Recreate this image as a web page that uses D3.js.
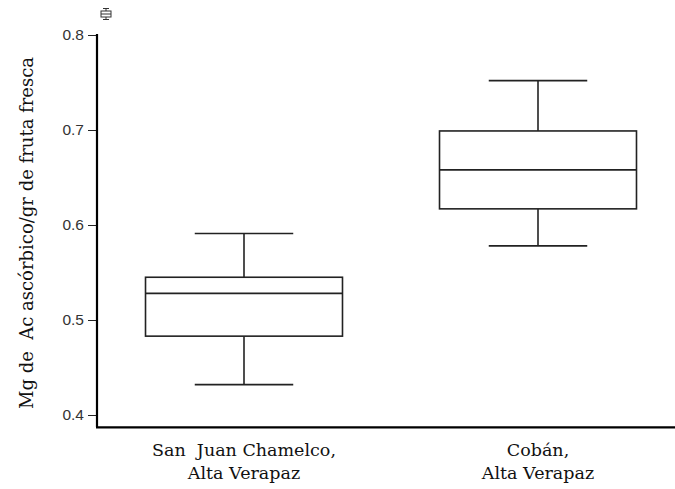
<!DOCTYPE html>
<html>
<head>
<meta charset="utf-8">
<script src="https://cdn.jsdelivr.net/npm/d3@7"></script>
<style>
  body { margin: 0; background: #fff; }
  .tick text { font-family: "Liberation Sans", Arial, sans-serif; font-size: 15.5px; fill: #333; }
  .lbl { font-family: "DejaVu Serif", Georgia, serif; fill: #111; white-space: pre; }
</style>
</head>
<body>
<div class="container"></div>
<script>
const w = 675;
const h = 489;

// data
const sites = ["San  Juan Chamelco,|Alta Verapaz", "Cobán,|Alta Verapaz"];
const whiskLow = [0.432, 0.578];
const q1 = [0.483, 0.617];
const median = [0.528, 0.658];
const q3 = [0.545, 0.699];
const whiskHigh = [0.591, 0.752];
const yTicks = [0.4, 0.5, 0.6, 0.7, 0.8];
const yTitle = "Mg de  Ac ascórbico/gr de fruta fresca";

const boxes = sites.map((s, i) => ({
  site: s, lo: whiskLow[i], q1: q1[i], med: median[i], q3: q3[i], hi: whiskHigh[i]
}));

const svg = d3.select(".container")
  .append("svg")
  .attr("width", w)
  .attr("height", h);

/* scales */
const xScale = d3.scaleBand()
  .domain(sites)
  .range([97, 685])
  .padding(0);

const yScale = d3.scaleLinear()
  .domain([0.4, 0.8])
  .range([415, 35]);

const bottomY = yScale(0.387);

/* y axis */
const yAxis = d3.axisLeft(yScale)
  .tickValues(yTicks)
  .tickFormat(d3.format(".1f"))
  .tickSize(9)
  .tickPadding(4);

const gy = svg.append("g")
  .attr("transform", "translate(97,0)")
  .call(yAxis);
gy.select(".domain").remove();
gy.selectAll(".tick line").attr("stroke", "#222").attr("stroke-width", 1);

svg.append("line")
  .attr("x1", 97).attr("x2", 97)
  .attr("y1", yScale(0.8) - 1).attr("y2", bottomY)
  .attr("stroke", "#000").attr("stroke-width", 2.2);

svg.append("line")
  .attr("x1", 96).attr("x2", w)
  .attr("y1", bottomY).attr("y2", bottomY)
  .attr("stroke", "#000").attr("stroke-width", 2.2);

/* boxes */
const bw = xScale.bandwidth() * 0.67;
const cw = xScale.bandwidth() * 0.335;

const g = svg.selectAll(".box")
  .data(boxes)
  .enter()
  .append("g")
  .attr("class", "box")
  .attr("transform", d => "translate(" + (xScale(d.site) + xScale.bandwidth() / 2) + ",0)");

const stroke = "#222";
g.append("line")
  .attr("x1", 0).attr("x2", 0)
  .attr("y1", d => yScale(d.hi)).attr("y2", d => yScale(d.q3))
  .attr("stroke", stroke).attr("stroke-width", 1.6);
g.append("line")
  .attr("x1", 0).attr("x2", 0)
  .attr("y1", d => yScale(d.q1)).attr("y2", d => yScale(d.lo))
  .attr("stroke", stroke).attr("stroke-width", 1.6);
g.append("line")
  .attr("x1", -cw / 2).attr("x2", cw / 2)
  .attr("y1", d => yScale(d.hi)).attr("y2", d => yScale(d.hi))
  .attr("stroke", stroke).attr("stroke-width", 1.6);
g.append("line")
  .attr("x1", -cw / 2).attr("x2", cw / 2)
  .attr("y1", d => yScale(d.lo)).attr("y2", d => yScale(d.lo))
  .attr("stroke", stroke).attr("stroke-width", 1.6);
g.append("rect")
  .attr("x", -bw / 2).attr("width", bw)
  .attr("y", d => yScale(d.q3))
  .attr("height", d => yScale(d.q1) - yScale(d.q3))
  .attr("fill", "#fff").attr("stroke", stroke).attr("stroke-width", 1.6);
g.append("line")
  .attr("x1", -bw / 2).attr("x2", bw / 2)
  .attr("y1", d => yScale(d.med)).attr("y2", d => yScale(d.med))
  .attr("stroke", stroke).attr("stroke-width", 1.6);

/* category labels, two lines each */
g.append("text")
  .attr("class", "lbl")
  .attr("text-anchor", "middle")
  .style("font-size", "17.5px")
  .selectAll("tspan")
  .data(d => d.site.split("|"))
  .enter()
  .append("tspan")
  .attr("x", 0)
  .attr("y", (d, i) => 456 + i * 23)
  .text(d => d);

/* y title */
svg.append("text")
  .attr("class", "lbl")
  .attr("text-anchor", "middle")
  .attr("transform", "translate(33,233) rotate(-90)")
  .style("font-size", "18px")
  .text(yTitle);

/* small box icon at top */
const ic = svg.append("g").attr("transform", "translate(106,14)")
  .attr("stroke", "#333").attr("stroke-width", 1).attr("fill", "none");
ic.append("line").attr("x1", -3).attr("x2", 3).attr("y1", -5.5).attr("y2", -5.5);
ic.append("line").attr("x1", 0).attr("x2", 0).attr("y1", -5.5).attr("y2", -3);
ic.append("rect").attr("x", -5).attr("y", -3).attr("width", 10).attr("height", 6);
ic.append("line").attr("x1", -5).attr("x2", 5).attr("y1", 0).attr("y2", 0);
ic.append("line").attr("x1", 0).attr("x2", 0).attr("y1", 3).attr("y2", 5.5);
ic.append("line").attr("x1", -3).attr("x2", 3).attr("y1", 5.5).attr("y2", 5.5);
</script>
</body>
</html>
